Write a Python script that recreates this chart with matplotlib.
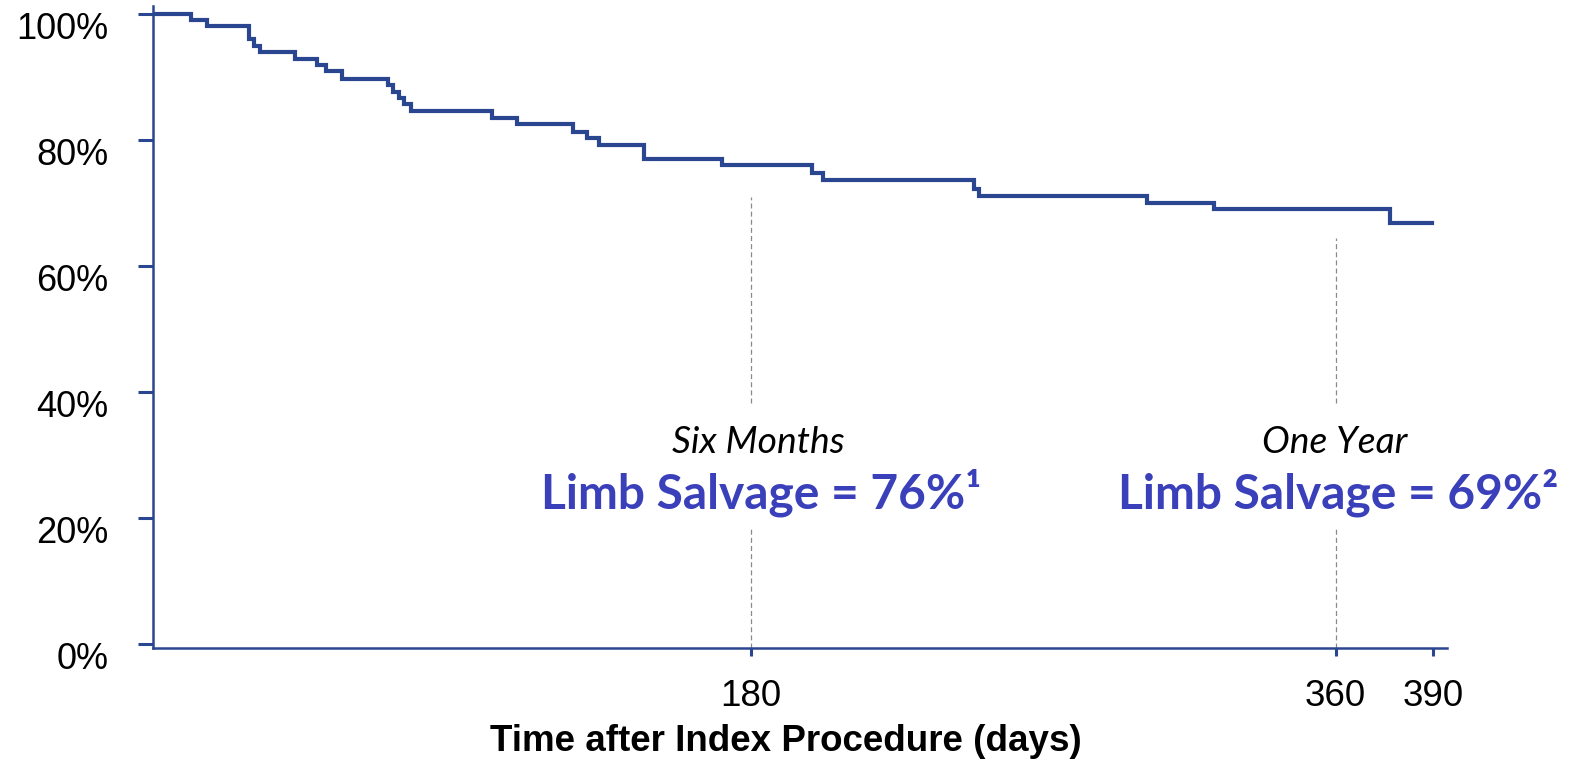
import matplotlib.pyplot as plt
import matplotlib.transforms as mtransforms
from matplotlib.ticker import FixedLocator

# Kaplan-Meier limb salvage estimate (day of event, survival after event in %)
days = [0, 7.5, 12.4, 25.4, 27.0, 29.0, 39.6, 46.3, 49.1, 54.2, 68.3, 69.9, 71.7,
        73.2, 75.5, 100.2, 108.0, 125.1, 129.6, 133.2, 147.0, 171.1, 198.7, 202.1,
        248.8, 250.1, 302.0, 322.5, 376.7, 389.8]
salvage = [100, 99.0, 98.1, 96.1, 95.0, 94.0, 92.9, 92.0, 91.0, 89.7, 88.8, 87.7, 86.7,
           85.7, 84.6, 83.5, 82.5, 81.3, 80.3, 79.3, 77.0, 76.0, 74.8, 73.6,
           72.3, 71.2, 70.0, 69.0, 66.8, 66.8]

y_ticks = [0, 20, 40, 60, 80, 100]
y_labels = ['0%', '20%', '40%', '60%', '80%', '100%']
x_ticks = [180, 360, 390]
x_labels = ['180', '360', '390']

milestone_days = [180, 360]
milestone_names = ['Six Months', 'One Year']
milestone_texts = ['Limb Salvage = 76%\u00b9', 'Limb Salvage = 69%\u00b2']
guide_tops = [71.0, 64.5]

navy = '#2B4690'
label_blue = '#3A3FBA'

fig = plt.figure(figsize=(15.85, 7.59), dpi=100)
ax = fig.add_axes([0.0965, 0.1462, 0.8164, 0.8459])
ax.set_xlim(-4.1, 394.3)
ax.set_ylim(-0.65, 101.3)

# the curve is drawn from the y axis onwards
x0 = ax.get_xlim()[0]
ax.step([x0] + days[1:], salvage, where='post', color=navy, lw=3.0,
        solid_joinstyle='miter', zorder=3)

# dashed guides at the milestones, broken where the labels sit
for d, top in zip(milestone_days, guide_tops):
    ax.vlines(d, 38.3, top, colors='#8a8a8a', linestyles=(0, (4, 2.5)), lw=0.9, zorder=1)
    ax.vlines(d, -0.6, 18.5, colors='#8a8a8a', linestyles=(0, (4, 2.5)), lw=0.9, zorder=1)

label_x = [182.2, 359.8]
for x, name, txt in zip(label_x, milestone_names, milestone_texts):
    ax.text(x, 32.0, name, ha='center', va='center', fontsize=26.8,
            family='Lato', style='italic', color='black')
    ax.text(x + 1.0, 24.0, txt, ha='center', va='center', fontsize=34.5,
            family='Lato', weight='bold', color=label_blue)

ax.yaxis.set_major_locator(FixedLocator(y_ticks))
ax.set_yticklabels(y_labels)
ax.xaxis.set_major_locator(FixedLocator(x_ticks))
ax.set_xticklabels(x_labels)

for side in ['top', 'right']:
    ax.spines[side].set_visible(False)
for side in ['left', 'bottom']:
    ax.spines[side].set_color(navy)
    ax.spines[side].set_linewidth(1.8)

ax.tick_params(axis='y', length=11, width=2.2, color=navy, pad=21,
               labelsize=26, labelfontfamily='Liberation Sans')
ax.tick_params(axis='x', length=6, width=2.2, color=navy, pad=16,
               labelsize=26.5, labelfontfamily='Liberation Sans')

# percentage labels sit a little below their ticks
shift = mtransforms.ScaledTranslation(0, -8 / 72, fig.dpi_scale_trans)
for lab in ax.get_yticklabels():
    lab.set_transform(lab.get_transform() + shift)

ax.set_xlabel('Time after Index Procedure (days)', fontsize=26.5,
              family='Liberation Sans', weight='bold')
ax.xaxis.set_label_coords(0.489, -0.118)

fig.savefig('out.png', dpi=100)
